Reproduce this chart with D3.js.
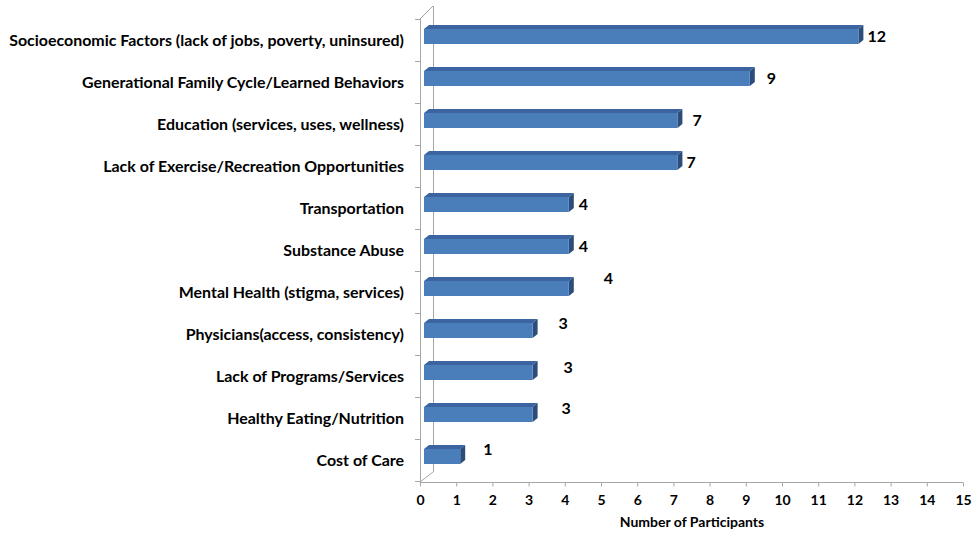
<!DOCTYPE html>
<html>
<head>
<meta charset="utf-8">
<script src="https://cdn.jsdelivr.net/npm/d3@7"></script>
<style>
  html, body { margin: 0; padding: 0; background: #fff; }
  svg { display: block; }
  text { font-family: Lato, "Open Sans", sans-serif; font-weight: 700; fill: #000; }
</style>
</head>
<body>
<svg id="chart" width="975" height="535"></svg>
<script>
// Barriers to health, ranked by number of participants who named them
const categories = [
  "Socioeconomic Factors (lack of jobs, poverty, uninsured)",
  "Generational Family Cycle/Learned Behaviors",
  "Education (services, uses, wellness)",
  "Lack of Exercise/Recreation Opportunities",
  "Transportation",
  "Substance Abuse",
  "Mental Health (stigma, services)",
  "Physicians(access, consistency)",
  "Lack of Programs/Services",
  "Healthy Eating/Nutrition",
  "Cost of Care"
];
const participants = [12, 9, 7, 7, 4, 4, 4, 3, 3, 3, 1];
const xTicks = d3.range(0, 16);
const xTitle = "Number of Participants";

// hand-placed data label nudges (px) relative to the default spot at each bar end
const labelNudge = [[0, 0], [8, 0], [6, 0], [0, 0], [1, 0], [1, 0], [26, -10], [17, -7], [22, -5], [20, -6], [14, -7]];

const svg = d3.select("#chart");

// front plane of the 3-D box
const x = d3.scaleLinear().domain([0, 15]).range([420, 963]);
const y = d3.scaleBand().domain(categories).range([19, 481]);
const floorY = 482;
const depth = { dx: 13, dy: -13 };     // back wall offset
const barShift = 4;                    // bars sit slightly behind the front plane
const face = { dx: 5, dy: -4 };        // visible top/side thickness of a bar
const barH = 15;

const axisColor = "#a6a6a6";

// walls: front edge, back edge and the two connecting diagonals
const g = svg.append("g").attr("stroke", axisColor).attr("stroke-width", 1).attr("fill", "none");
g.append("line").attr("x1", x(0) + 0.5).attr("x2", x(0) + 0.5).attr("y1", y.range()[0]).attr("y2", floorY);
g.append("line").attr("x1", x(0) + depth.dx + 0.5).attr("x2", x(0) + depth.dx + 0.5)
  .attr("y1", y.range()[0] + depth.dy).attr("y2", floorY + depth.dy + 3);
g.append("line").attr("x1", x(0)).attr("y1", y.range()[0]).attr("x2", x(0) + depth.dx).attr("y2", y.range()[0] + depth.dy);
g.append("line").attr("x1", x(0)).attr("y1", floorY).attr("x2", x(0) + depth.dx).attr("y2", floorY + depth.dy + 3);

// category tick marks on the left edge
const bounds = categories.map(c => y(c)).concat([y.range()[1]]);
g.selectAll("line.ct").data(bounds).join("line").attr("class", "ct")
  .attr("x1", x(0) - 5).attr("x2", x(0)).attr("y1", d => Math.round(d) + 0.5).attr("y2", d => Math.round(d) + 0.5);

// value axis
const xAxis = svg.append("g").attr("transform", `translate(0,${floorY + 0.5})`)
  .call(d3.axisBottom(x).tickValues(xTicks).tickSize(4).tickPadding(9).tickFormat(d3.format("d")));
xAxis.select(".domain").attr("stroke", axisColor).attr("d", `M${x(0)},0H${x(15)}`);
xAxis.selectAll(".tick line").attr("stroke", axisColor);
xAxis.selectAll(".tick text").attr("font-size", 14).attr("font-family", "Lato, sans-serif").attr("font-weight", 700).attr("fill", "#000");

svg.append("text").attr("x", 692).attr("y", 527).attr("text-anchor", "middle").attr("font-size", 14).text(xTitle);

// category labels, right aligned against the axis
const labels = svg.append("g").selectAll("text").data(categories).join("text")
  .attr("x", 404).attr("y", d => y(d) + y.bandwidth() / 2).attr("dy", "0.35em")
  .attr("text-anchor", "end").attr("font-size", 14).text(d => d);
// fit the longest label to its available width
const longest = labels.nodes()[0].getComputedTextLength();
const fs = 14 * 395 / longest;
labels.attr("font-size", fs);

// 3-D bars: top face, side face, front face
const bars = svg.append("g").selectAll("g").data(categories).join("g");
const barTop = (c) => y(c) + y.bandwidth() / 2 - 3.5 - barH / 2;
const x0 = x(0) + barShift;
const bx = v => x(v) + barShift;

bars.append("path").attr("fill", "#3b64a0")
  .attr("d", (c, i) => {
    const t = barTop(c), r = bx(participants[i]);
    return `M${x0},${t}L${x0 + face.dx},${t + face.dy}L${r + face.dx},${t + face.dy}L${r},${t}Z`;
  });
bars.append("path").attr("fill", "#2c4d7c")
  .attr("d", (c, i) => {
    const t = barTop(c), r = bx(participants[i]);
    return `M${r},${t}L${r + face.dx},${t + face.dy}L${r + face.dx},${t + face.dy + barH}L${r},${t + barH}Z`;
  });
bars.append("rect").attr("fill", "#4a7ebb")
  .attr("x", x0).attr("y", c => barTop(c))
  .attr("width", (c, i) => bx(participants[i]) - x0).attr("height", barH);

// data labels
svg.append("g").selectAll("text").data(categories).join("text")
  .attr("x", (c, i) => bx(participants[i]) + face.dx + 4 + labelNudge[i][0])
  .attr("y", (c, i) => barTop(c) + barH / 2 + labelNudge[i][1]).attr("dy", "0.35em")
  .attr("font-size", 16).text((c, i) => participants[i]);
</script>
</body>
</html>
